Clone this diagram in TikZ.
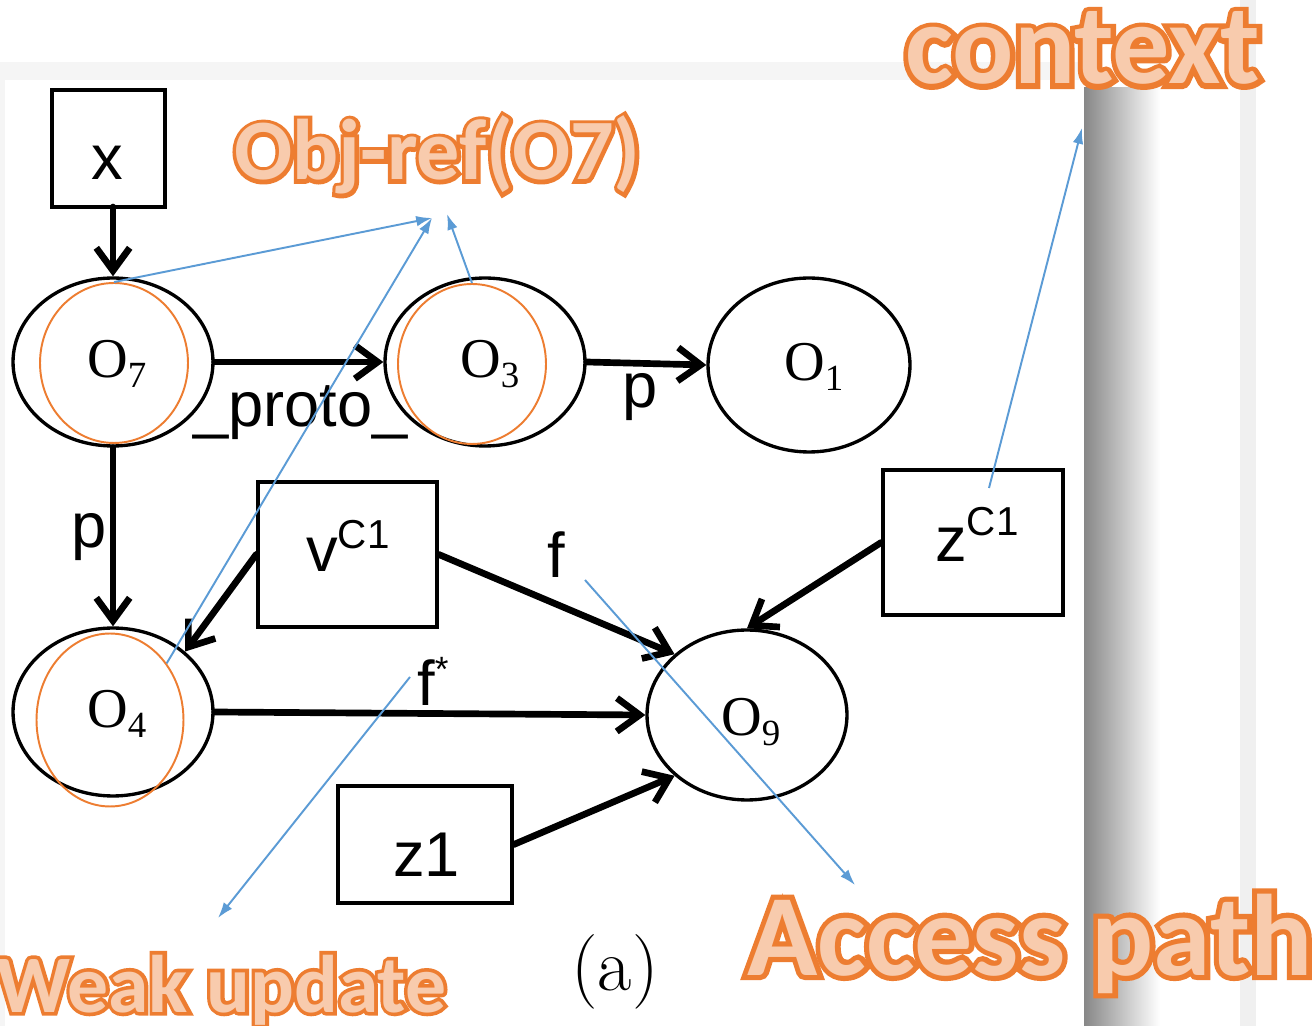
\documentclass[tikz,border=0pt]{standalone}
\usepackage{fontspec}
\usetikzlibrary{arrows.meta,shapes.geometric}
\newfontfamily\varfont{Liberation Sans}
\newfontfamily\objfont{Liberation Serif}
\newfontfamily\notefont{Carlito}
\newfontfamily\noteoutline{Carlito}[BoldFeatures={FakeBold=9}]
\definecolor{noteorange}{HTML}{ED7D31}
\definecolor{notefill}{HTML}{F8CBAD}
\definecolor{noteblue}{HTML}{5B9BD5}
% object label O_n
\newcommand\objlbl[1]{\fontsize{32pt}{34pt}\selectfont O\raisebox{-5.6pt}{\fontsize{21pt}{22pt}\selectfont #1}}
% variable with a context superscript
\newcommand\ctxvar[2]{#1\raisebox{#2}{\fontsize{23pt}{24pt}\selectfont C1}}
% outlined annotation text: stroked orange layer under a light fill layer
\newcommand\notelabel[4]{%
  \node[notetext, text=noteorange, font=\noteoutline\bfseries] at (#2) {\fontsize{#3}{#3}\selectfont #4};
  \node[notetext, text=notefill] (#1) at (#2) {\fontsize{#3}{#3}\selectfont #4};}
\begin{document}
\begin{tikzpicture}[x=0.02cm, y=-0.02cm,
  obj/.style={ellipse, draw=black, line width=1.9pt, inner sep=0pt},
  var/.style={rectangle, draw=black, line width=2.1pt, inner sep=0pt},
  hl/.style={ellipse, draw=noteorange, line width=1.1pt, inner sep=0pt},
  edge/.style={line width=3.8pt, line cap=round, line join=round,
    -{Straight Barb[length=13pt,width=19pt]}},
  note/.style={draw=noteblue, line width=1.1pt, -{Latex[length=9pt,width=6pt]}},
  lbl/.style={font=\varfont\fontsize{36pt}{38pt}\selectfont, inner sep=0pt, anchor=base west},
  olbl/.style={font=\objfont, inner sep=0pt, anchor=base west},
  notetext/.style={anchor=base west, inner sep=0pt, font=\notefont\bfseries}]
\useasboundingbox (0,0) rectangle (1316,1026);
% page frame and shadow
\fill[white] (0,0) rectangle (1316,1026);
\fill[black!4] (0,62) rectangle (1085,80);
\fill[black!4] (0,80) rectangle (5,1026);
\shade[left color=black!47, right color=white] (1084,88) rectangle (1160,1026);
\fill[black!6] (1240,0) rectangle (1256,1026);

% objects
\node[obj, minimum width=4cm, minimum height=3.36cm] (o7) at (113,362) {};
\node[obj, minimum width=4cm, minimum height=3.36cm] (o3) at (485,362) {};
\node[obj, minimum width=4.04cm, minimum height=3.48cm] (o1) at (809,365) {};
\node[obj, minimum width=4cm, minimum height=3.36cm] (o4) at (113,712) {};
\node[obj, minimum width=4cm, minimum height=3.4cm] (o9) at (747,715) {};
\node[olbl] (o7l) at (87,378) {\objlbl{7}};
\node[olbl] (o3l) at (460,378) {\objlbl{3}};
\node[olbl] (o1l) at (784,381) {\objlbl{1}};
\node[olbl] (o4l) at (87,728) {\objlbl{4}};
\node[olbl] (o9l) at (721,736) {\objlbl{9}};

% variables
\node[var, minimum width=2.26cm, minimum height=2.34cm] (xv) at (108.5,148.5) {};
\node[var, minimum width=3.58cm, minimum height=2.9cm] (vv) at (347.5,554.5) {};
\node[var, minimum width=3.6cm, minimum height=2.9cm] (zc) at (973,542.5) {};
\node[var, minimum width=3.48cm, minimum height=2.34cm] (z1) at (425,844.5) {};
\node[lbl] (xl) at (91,180) {x};
\node[lbl] (vl) at (306,572) {\ctxvar{v}{13.5pt}};
\node[lbl] (zl) at (935,562) {\ctxvar{z}{15pt}};
\node[lbl] (z1l) at (393,877) {z1};

% points-to edges
\draw[edge] (113,207) -- (o7.north);
\draw[edge] (o7) -- (o3);
\draw[edge] (o3.east) -- (o1.west);
\draw[edge] (o7) -- (o4);
\draw[edge] (vv.west) -- (o4.40);
\draw[edge] (vv.east) -- (o9.140);
\draw[edge] (o4.east) -- (o9.west);
\draw[edge] (z1.east) -- (o9.220);
\draw[edge] (zc.west) -- (o9.north);

% edge labels
\node[lbl] (protol) at (193,427) {\_proto\_};
\node[lbl] (p1l) at (622,408) {p};
\node[lbl] (p2l) at (71,548) {p};
\node[lbl] (fl) at (547,578) {f};
\node[lbl] (fsl) at (417,706) {f\raisebox{14pt}{\fontsize{20pt}{20pt}\selectfont *}};
\node[inner sep=0pt, font=\fontsize{42.5pt}{44pt}\selectfont] (cap) at (615,972) {(a)};

% highlighted objects
\node[hl, minimum width=2.96cm, minimum height=3.2cm] (h7) at (114,363) {};
\node[hl, minimum width=2.96cm, minimum height=3.2cm] (h3) at (472,364) {};
\node[hl, minimum width=2.94cm, minimum height=3.46cm] (h4) at (110,720) {};

% annotation labels
\notelabel{ctxnote}{905,84}{65pt}{context}
\notelabel{objnote}{234,180}{49pt}{Obj-ref(O7)}
\notelabel{weaknote}{-4,1012}{46.5pt}{Weak update}
\notelabel{accnote}{747,975}{66pt}{Access path}

% annotation pointers
\coordinate (objtipa) at (432,218);
\coordinate (objtipb) at (447,214);
\coordinate (ctxtip) at (1082,128);
\coordinate (acctip) at (855,885);
\coordinate (weaktip) at (218,918);
\coordinate (zctail) at (989,488);
\coordinate (ftail) at (585,580);
\coordinate (fstail) at (410,677);
\draw[note] (h7.north) -- (objtipa);
\draw[note] (h4.45) -- (objtipa);
\draw[note] (h3.north) -- (objtipb);
\draw[note] (zctail) -- (ctxtip);
\draw[note] (ftail) -- (acctip);
\draw[note] (fstail) -- (weaktip);
\end{tikzpicture}
\end{document}
